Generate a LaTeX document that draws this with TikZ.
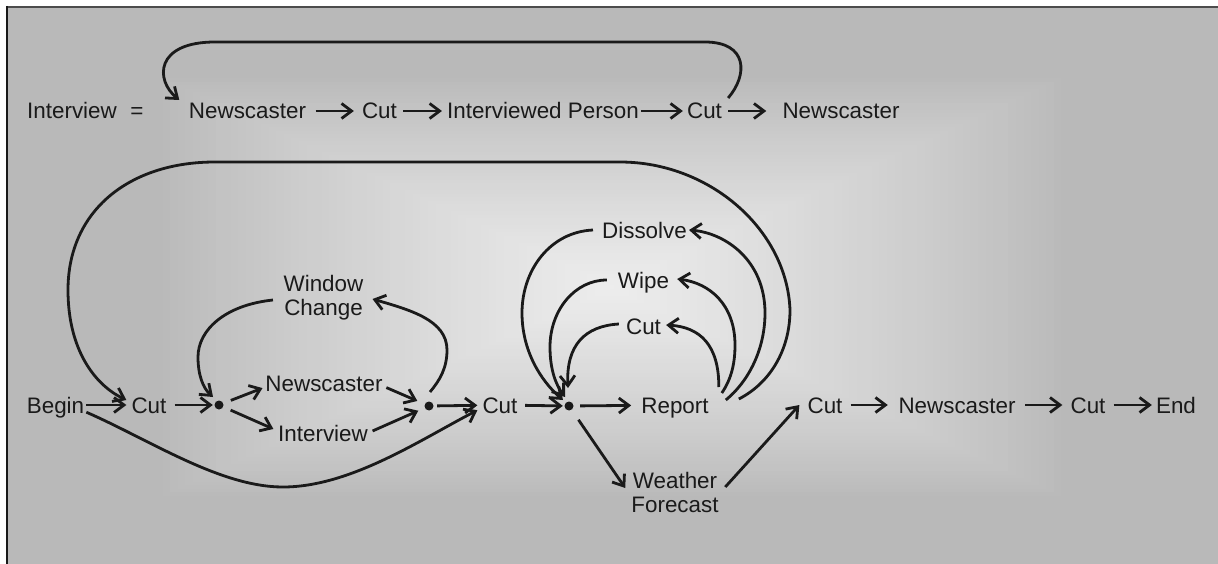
\documentclass[tikz,border=0pt]{standalone}
\usepackage{fontspec}
\setmainfont{Liberation Sans}
\usetikzlibrary{arrows.meta,calc}
\definecolor{ink}{HTML}{1A1A1A}
\begin{document}
\begin{tikzpicture}[x=1pt,y=-1pt,
  lbl/.style={inner sep=0pt, text height=16pt, text depth=0pt, font=\fontsize{22.4}{24}\selectfont, text=ink},
  lbltwo/.style={inner sep=0pt, align=center, font=\fontsize{22.4}{24}\selectfont, text=ink},
  dotnode/.style={circle, fill=ink, inner sep=0pt, minimum size=9pt},
  arr/.style={draw=ink, line width=2.8pt, -{Straight Barb[length=10pt,width=15pt]}},
  ]
\useasboundingbox (0,0) rectangle (1218,564);
% background
\fill[white] (0,0) rectangle (1218,564);
\fill[white!72.5!black] (7,7) rectangle (1218,564);
\foreach \i in {1,...,60}{
  \pgfmathsetmacro{\f}{\i/60}
  \pgfmathsetmacro{\hx}{455*(1-\f)+2}
  \pgfmathsetmacro{\hy}{210*(1-\f)+2}
  \pgfmathsetmacro{\g}{72.5+20.5*pow(\f,0.85)}
  \fill[white!\g!black] ({612-\hx},{287-\hy}) rectangle ({612+\hx},{287+\hy});
}
\draw[line width=1.6pt, draw=black!70] (6,7) -- (1218,7);
\draw[line width=2pt, draw=black!90] (7,6) -- (7,564);

% top row
\node[lbl] (intv) at (72,111) {Interview};
\node[lbl] (eq) at (137,111) {=};
\node[lbl] (n1) at (247.5,111) {Newscaster};
\node[lbl] (c1) at (379.5,111) {Cut};
\node[lbl] (ip) at (543,111) {Interviewed Person};
\node[lbl] (c2) at (704.5,111) {Cut};
\node[lbl] (n2) at (841,111) {Newscaster};

% second row
\node[lbl] (begin) at (55.5,405) {Begin};
\node[lbl] (cut1) at (149,405) {Cut};
\node[dotnode] (d1) at (219,405) {};
\node[lbltwo] (wc) at (323.5,297.5) {Window\\Change};
\node[lbl] (nw) at (324,383) {Newscaster};
\node[lbl] (iv) at (323,433) {Interview};
\node[dotnode] (d2) at (429,406) {};
\node[lbl] (cut2) at (500,405) {Cut};
\node[dotnode] (d3) at (569,406) {};
\node[lbl] (rep) at (675,405) {Report};
\node[lbl] (dis) at (644.5,230) {Dissolve};
\node[lbl] (wipe) at (643.5,280) {Wipe};
\node[lbl] (cut3) at (643.5,326) {Cut};
\node[lbltwo] (wf) at (675,492) {Weather\\Forecast};
\node[lbl] (cut4) at (825,405) {Cut};
\node[lbl] (n3) at (957,405) {Newscaster};
\node[lbl] (cut5) at (1088,405) {Cut};
\node[lbl] (endn) at (1176,405) {End};

% top row connectors
\draw[arr, shorten <=9.5pt, shorten >=8pt] (n1) -- (c1);
\draw[arr, shorten <=6pt, shorten >=5pt] (c1) -- (ip);
\draw[arr, shorten <=2pt, shorten >=4pt] (ip) -- (c2);
\draw[arr, shorten <=6pt, shorten >=16pt] (c2) -- (n2);
\draw[arr] ($(c2.east)+(6,-13)$) .. controls (748,75) and (748,42) .. (705,42) -- (215,42) .. controls (155,42) and (155,80) .. ($(n1.west)+(-9.5,-11)$);

% big loop
\draw[arr] ($(rep.east)+(30,-6)$) .. controls (770,383) and (790,350) .. (790,310) .. controls (787,230) and (710,162) .. (620,162) -- (215,162) .. controls (130,162) and (68,210) .. (68,290) .. controls (68,350) and (95,385) .. ($(cut1.west)+(-5,-5)$);

% window change loop
\draw[arr] ($(wc.west)+(-10.5,2.5)$) .. controls (225,305) and (198,330) .. (198,357) .. controls (198,375) and (203,388) .. ($(d1)+(-6,-8)$);
\draw[arr] ($(d2)+(1,-14)$) .. controls (440,380) and (447,368) .. (447,350) .. controls (447,320) and (410,310) .. ($(wc.east)+(9,1.5)$);

% second row connectors
\draw[arr, shorten <=2pt, shorten >=5pt] (begin) -- (cut1);
\draw[arr, shorten <=8pt, shorten >=1.5pt] (cut1) -- (d1);
\draw[arr, shorten <=8pt, shorten >=3pt] (d1) -- ($(nw.west)+(0,4)$);
\draw[arr, shorten <=8pt, shorten >=5pt] (d1) -- ($(iv.west)+(0,-2)$);
\draw[arr, shorten <=4pt, shorten >=8pt] ($(nw.east)+(0,3)$) -- (d2);
\draw[arr, shorten <=5pt, shorten >=7pt] (iv.east) -- (d2);
\draw[arr, shorten <=3.5pt, shorten >=5pt] (d2) -- (cut2);
\draw[arr] ($(begin.south east)+(2,-1)$) .. controls (150,440) and (220,487) .. (283,487) .. controls (350,487) and (420,440) .. ($(cut2.south west)+(-5,-3)$);
\draw[arr, shorten <=7.5pt, shorten >=1.5pt] (cut2) -- (d3);
\draw[arr, shorten <=6.5pt, shorten >=10pt] (d3) -- (rep);
\draw[arr, shorten <=12pt] (d3) -- ($(wf.west)+(-6,-4)$);
\draw[arr] ($(wf.east)+(6.5,-5)$) -- ($(cut4.west)+(-8,0)$);
\draw[arr, shorten <=8pt, shorten >=10.5pt] (cut4) -- (n3);
\draw[arr, shorten <=9.5pt, shorten >=8pt] (n3) -- (cut5);
\draw[arr, shorten <=8pt, shorten >=4pt] (cut5) -- (endn);

% transitions back to the dot
\draw[arr] ($(dis.west)+(-9,0)$) .. controls (550,232) and (522,270) .. (522,313) .. controls (522,350) and (540,380) .. ($(d3)+(-6,-6)$);
\draw[arr] ($(wipe.west)+(-11,0)$) .. controls (575,280) and (550,310) .. (550,347) .. controls (550,370) and (556,385) .. ($(d3)+(-4,-9)$);
\draw[arr] ($(cut3.west)+(-7,-2)$) .. controls (585,326) and (566,345) .. ($(d3)+(-1,-18)$);

% transitions from report
\draw[arr] ($(rep.east)+(10,-18)$) .. controls (719,345) and (700,327) .. ($(cut3.east)+(5,-1)$);
\draw[arr] ($(rep.east)+(13,-12)$) .. controls (732,378) and (735,362) .. (735,345) .. controls (735,305) and (710,283) .. ($(wipe.east)+(8,-1)$);
\draw[arr] ($(rep.east)+(17,-5)$) .. controls (748,382) and (765,350) .. (765,313) .. controls (765,260) and (725,233) .. ($(dis.east)+(2,0)$);
\end{tikzpicture}
\end{document}
